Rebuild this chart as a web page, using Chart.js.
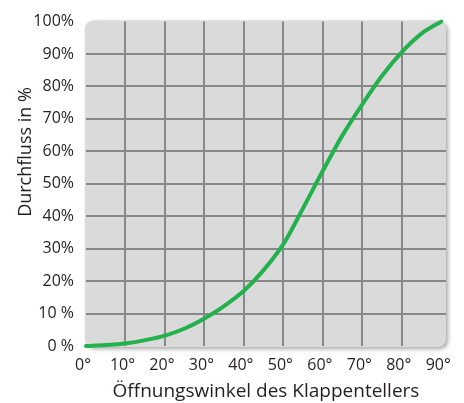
<!DOCTYPE html>
<html>
<head>
<meta charset="utf-8">
<script src="https://cdn.jsdelivr.net/npm/chart.js@4"></script>
<style>
html,body{margin:0;padding:0;background:#fff;}
#wrap{width:464px;height:403px;position:relative;}
</style>
</head>
<body>
<div id="wrap"><canvas id="c" width="464" height="403"></canvas></div>
<script>
// Data
const angles = [0, 5, 10, 15, 20, 25, 30, 35, 40, 45, 50, 55, 60, 65, 70, 75, 80, 85, 90];
const flowPercent = [0, 0.3, 0.8, 1.8, 3.2, 5.4, 8.5, 12.3, 17, 23.4, 31.4, 42.5, 54, 65, 74.5, 83.3, 90.6, 96.3, 100];
const xTickValues = [0, 10, 20, 30, 40, 50, 60, 70, 80, 90];
const xTickLabels = ['0°', '10°', '20°', '30°', '40°', '50°', '60°', '70°', '80°', '90°'];
const yTickValues = [0, 10, 20, 30, 40, 50, 60, 70, 80, 90, 100];
const yTickLabels = ['0 %', '10 %', '20%', '30%', '40%', '50%', '60%', '70%', '80%', '90%', '100%'];
const xTitle = 'Öffnungswinkel des Klappentellers';
const yTitle = 'Durchfluss in %';

const points = angles.map((a, i) => ({x: a, y: flowPercent[i]}));
const FONT = "'Open Sans', 'Noto Sans', sans-serif";
const TEXT = '#231f20';
const GRID = '#86888a';

const plotBg = {
  id: 'plotBg',
  beforeDraw(chart) {
    const {ctx, chartArea: a} = chart;
    const x = a.left - 1, y = a.top - 1, w = a.right - a.left + 1, h = a.bottom - a.top + 2, r = 8;
    ctx.save();
    ctx.shadowColor = 'rgba(0,0,0,0.35)';
    ctx.shadowBlur = 4;
    ctx.shadowOffsetX = 2;
    ctx.shadowOffsetY = 2;
    ctx.fillStyle = '#dadada';
    ctx.beginPath();
    ctx.roundRect(x, y, w, h, r);
    ctx.fill();
    ctx.restore();
  }
};

// Y axis title (placed above the plot's middle, as in the reference)
const yTitlePlugin = {
  id: 'yTitlePlugin',
  afterDraw(chart) {
    const {ctx} = chart;
    ctx.save();
    ctx.translate(26, 152);
    ctx.rotate(-Math.PI / 2);
    ctx.fillStyle = TEXT;
    ctx.font = "18px " + FONT;
    ctx.textAlign = 'center';
    ctx.textBaseline = 'middle';
    ctx.fillText(yTitle, 0, 0);
    ctx.restore();
  }
};

new Chart(document.getElementById('c'), {
  type: 'line',
  data: {
    datasets: [{
      data: points,
      borderColor: '#22b14c',
      borderWidth: 4,
      borderCapStyle: 'round',
      pointRadius: 0,
      fill: false,
      cubicInterpolationMode: 'monotone',
      clip: false
    }]
  },
  options: {
    responsive: false,
    animation: false,
    devicePixelRatio: 1,
    layout: {padding: {top: 16, right: 13, left: 0, bottom: 0}},
    plugins: {legend: {display: false}, tooltip: {enabled: false}},
    scales: {
      x: {
        type: 'linear',
        min: 0,
        max: 91.2,
        afterFit(s) { s.height = 57; },
        afterBuildTicks(s) { s.ticks = xTickValues.map(v => ({value: v})); },
        grid: {
          drawTicks: false,
          lineWidth: 2,
          color: ctx => (ctx.tick && (ctx.tick.value === 0 || ctx.tick.value === 90)) ? 'rgba(0,0,0,0)' : GRID
        },
        border: {display: false},
        ticks: {
          padding: 10,
          labelOffset: -3,
          maxRotation: 0,
          autoSkip: false,
          color: TEXT,
          font: {family: FONT, size: 16},
          callback: v => xTickLabels[xTickValues.indexOf(v)]
        },
        title: {
          display: true,
          text: xTitle,
          color: TEXT,
          font: {family: FONT, size: 19},
          padding: {top: 0, bottom: 0}
        }
      },
      y: {
        type: 'linear',
        min: 0,
        max: 100,
        afterFit(s) { s.width = 86; },
        afterBuildTicks(s) { s.ticks = yTickValues.map(v => ({value: v})); },
        grid: {
          drawTicks: false,
          lineWidth: 2,
          color: ctx => (ctx.tick && (ctx.tick.value === 0 || ctx.tick.value === 100)) ? 'rgba(0,0,0,0)' : GRID
        },
        border: {display: false},
        ticks: {
          padding: 12,
          autoSkip: false,
          color: TEXT,
          font: {family: FONT, size: 16},
          callback: v => yTickLabels[yTickValues.indexOf(v)]
        },
        title: {display: false}
      }
    }
  },
  plugins: [plotBg, yTitlePlugin]
});
</script>
</body>
</html>
